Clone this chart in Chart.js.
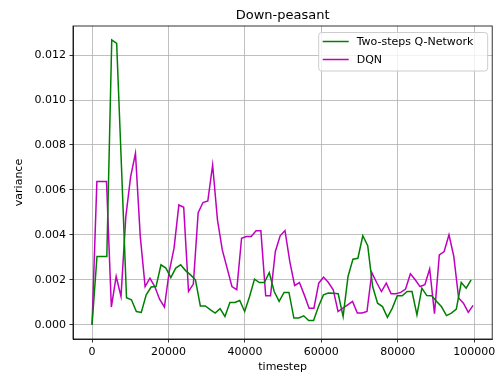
<!DOCTYPE html>
<html>
<head>
<meta charset="utf-8">
<script src="https://cdn.jsdelivr.net/npm/chart.js@4.4.1/dist/chart.umd.min.js"></script>
<style>
  html, body { margin: 0; padding: 0; background: #fff; }
</style>
</head>
<body>
<canvas id="varianceChart" width="499" height="378"></canvas>
<script>
// timesteps at which each run logged its variance
const twoStepSteps = [
  0, 1288, 2576, 3864, 5152, 6440, 7728, 9016, 10304, 11592,
  12880, 14168, 15456, 16744, 18032, 19320, 20608, 21896, 23184, 24472,
  25760, 27048, 28336, 29624, 30912, 32200, 33488, 34776, 36064, 37352,
  38640, 39928, 41216, 42504, 43792, 45080, 46368, 47656, 48944, 50232,
  51520, 52808, 54096, 55384, 56672, 57960, 59248, 60536, 61824, 63112,
  64400, 65688, 66976, 68264, 69552, 70840, 72128, 73416, 74704, 75992,
  77280, 78568, 79856, 81144, 82432, 83720, 85008, 86296, 87584, 88872,
  90160, 91448, 92736, 94024, 95312, 96600, 97888, 99176
];
const twoStepVariance = [
  0, 0.00304, 0.00304, 0.00304, 0.01267, 0.01252, 0.0069, 0.0012, 0.00111, 0.00059,
  0.00055, 0.00133, 0.00168, 0.0017, 0.00267, 0.00252, 0.0021, 0.00252, 0.00267, 0.00241,
  0.00222, 0.002, 0.00084, 0.00084, 0.00067, 0.00052, 0.00072, 0.00037, 0.00099, 0.00099,
  0.00108, 0.00059, 0.00126, 0.00203, 0.00188, 0.00188, 0.00232, 0.00148, 0.00104, 0.00144,
  0.00144, 0.0003, 0.0003, 0.0004, 0.00019, 0.00019, 0.00081, 0.00133, 0.00141, 0.0014,
  0.00138, 0.00037, 0.00215, 0.00292, 0.00296, 0.00396, 0.00352, 0.0017, 0.00096, 0.00081,
  0.00033, 0.00074, 0.00129, 0.00129, 0.00148, 0.00148, 0.00044, 0.00163, 0.0013, 0.00129,
  0.00104, 0.0008, 0.00041, 0.00052, 0.0007, 0.00188, 0.00163, 0.002
];

const dqnSteps = [
  0, 1262, 2524, 3786, 5048, 6310, 7572, 8834, 10096, 11358,
  12620, 13882, 15144, 16406, 17668, 18930, 20192, 21454, 22716, 23978,
  25240, 26502, 27764, 29026, 30288, 31550, 32812, 34074, 35336, 36598,
  37860, 39122, 40384, 41646, 42908, 44170, 45432, 46694, 47956, 49218,
  50480, 51742, 53004, 54266, 55528, 56790, 58052, 59314, 60576, 61838,
  63100, 64362, 65624, 66886, 68148, 69410, 70672, 71934, 73196, 74458,
  75720, 76982, 78244, 79506, 80768, 82030, 83292, 84554, 85816, 87078,
  88340, 89602, 90864, 92126, 93388, 94650, 95912, 97174, 98436, 99698
];
const dqnVariance = [
  0, 0.00637, 0.00637, 0.00637, 0.00079, 0.00215, 0.00126, 0.00481, 0.00659, 0.00763,
  0.00392, 0.0017, 0.00207, 0.0017, 0.00114, 0.00079, 0.00237, 0.00341, 0.00533, 0.00523,
  0.00148, 0.00181, 0.00499, 0.00544, 0.00551, 0.00711, 0.00467, 0.00333, 0.00252, 0.0017,
  0.00156, 0.00385, 0.00393, 0.00393, 0.00418, 0.00418, 0.00129, 0.00129, 0.00326, 0.00396,
  0.00419, 0.00281, 0.00175, 0.00188, 0.00133, 0.00074, 0.00074, 0.00185, 0.00212, 0.00188,
  0.00156, 0.00059, 0.00074, 0.00089, 0.00104, 0.00052, 0.00052, 0.00059, 0.00232, 0.00188,
  0.00148, 0.00185, 0.00138, 0.00138, 0.00144, 0.00159, 0.00227, 0.002, 0.0017, 0.00178,
  0.00248, 0.00049, 0.00311, 0.00326, 0.004, 0.00304, 0.00119, 0.00096, 0.00055, 0.00086
];

const seriesNames = ['Two-steps Q-Network', 'DQN'];
const seriesColors = ['#008000', '#bf00bf'];
const xTicks = [0, 20000, 40000, 60000, 80000, 100000];
const yTicks = [0, 0.002, 0.004, 0.006, 0.008, 0.010, 0.012];
const chartTitle = 'Down-peasant';

const FONT = '"DejaVu Sans", sans-serif';
Chart.defaults.font.family = FONT;
Chart.defaults.color = '#000';

function toPoints(xs, ys) {
  return xs.map((x, i) => ({ x: x, y: ys[i] }));
}

// axes frame, title and the legend box inside the plot (matplotlib look)
const decorPlugin = {
  id: 'decor',
  afterDraw(chart) {
    const ctx = chart.ctx;
    const a = chart.chartArea;
    ctx.save();
    ctx.strokeStyle = '#000';
    ctx.lineWidth = 0.8;
    ctx.strokeRect(a.left, a.top, a.right - a.left, a.bottom - a.top);

    ctx.fillStyle = '#000';
    ctx.font = '13px ' + FONT;
    ctx.textAlign = 'center';
    ctx.textBaseline = 'alphabetic';
    ctx.fillText(chartTitle, (a.left + a.right) / 2, a.top - 7);

    // legend
    const bx = a.right - 173.5, by = a.top + 6.5, bw = 169, bh = 38.5, r = 3;
    ctx.beginPath();
    ctx.moveTo(bx + r, by);
    ctx.arcTo(bx + bw, by, bx + bw, by + bh, r);
    ctx.arcTo(bx + bw, by + bh, bx, by + bh, r);
    ctx.arcTo(bx, by + bh, bx, by, r);
    ctx.arcTo(bx, by, bx + bw, by, r);
    ctx.closePath();
    ctx.fillStyle = 'rgba(255,255,255,0.8)';
    ctx.fill();
    ctx.strokeStyle = '#cccccc';
    ctx.lineWidth = 1;
    ctx.stroke();

    ctx.font = '11px ' + FONT;
    ctx.textAlign = 'left';
    ctx.textBaseline = 'middle';
    seriesNames.forEach((name, i) => {
      const y = by + 9 + i * 18;
      ctx.strokeStyle = seriesColors[i];
      ctx.lineWidth = 1.5;
      ctx.beginPath();
      ctx.moveTo(bx + 4, y);
      ctx.lineTo(bx + 30, y);
      ctx.stroke();
      ctx.fillStyle = '#000';
      ctx.fillText(name, bx + 38, y + 0.5);
    });
    ctx.restore();
  }
};

const ctx = document.getElementById('varianceChart').getContext('2d');
const varianceChart = new Chart(ctx, {
  type: 'line',
  data: {
    datasets: [
      {
        label: seriesNames[0],
        data: toPoints(twoStepSteps, twoStepVariance),
        borderColor: seriesColors[0],
        backgroundColor: seriesColors[0],
        borderWidth: 1.5,
        pointRadius: 0,
        tension: 0,
        fill: false
      },
      {
        label: seriesNames[1],
        data: toPoints(dqnSteps, dqnVariance),
        borderColor: seriesColors[1],
        backgroundColor: seriesColors[1],
        borderWidth: 1.5,
        pointRadius: 0,
        tension: 0,
        fill: false
      }
    ]
  },
  options: {
    responsive: false,
    animation: false,
    layout: { padding: { left: 0, right: 6, top: 26, bottom: 0 } },
    plugins: {
      legend: { display: false },
      title: { display: false },
      tooltip: { enabled: false }
    },
    scales: {
      x: {
        type: 'linear',
        min: -4986,
        max: 104697,
        afterBuildTicks: scale => { scale.ticks = xTicks.map(v => ({ value: v })); },
        afterFit: scale => { scale.height = 39; },
        grid: { color: '#b0b0b0', lineWidth: 0.8, tickColor: '#000', tickLength: 3.5 },
        border: { display: true, color: '#000', width: 0.8 },
        ticks: { font: { size: 11 }, color: '#000', padding: 3.5, maxRotation: 0, callback: v => String(v) },
        title: { display: true, text: 'timestep', font: { size: 11 }, color: '#000', padding: { top: 0, bottom: 4 } }
      },
      y: {
        type: 'linear',
        min: -0.000633,
        max: 0.013293,
        afterBuildTicks: scale => { scale.ticks = yTicks.map(v => ({ value: v })); },
        afterFit: scale => { scale.width = 73; },
        grid: { color: '#b0b0b0', lineWidth: 0.8, tickColor: '#000', tickLength: 3.5 },
        border: { display: true, color: '#000', width: 0.8 },
        ticks: { font: { size: 11 }, color: '#000', padding: 3.5, callback: v => v.toFixed(3) },
        title: { display: true, text: 'variance', font: { size: 11 }, color: '#000', padding: { top: 13, bottom: 0 } }
      }
    }
  },
  plugins: [decorPlugin]
});
</script>
</body>
</html>
